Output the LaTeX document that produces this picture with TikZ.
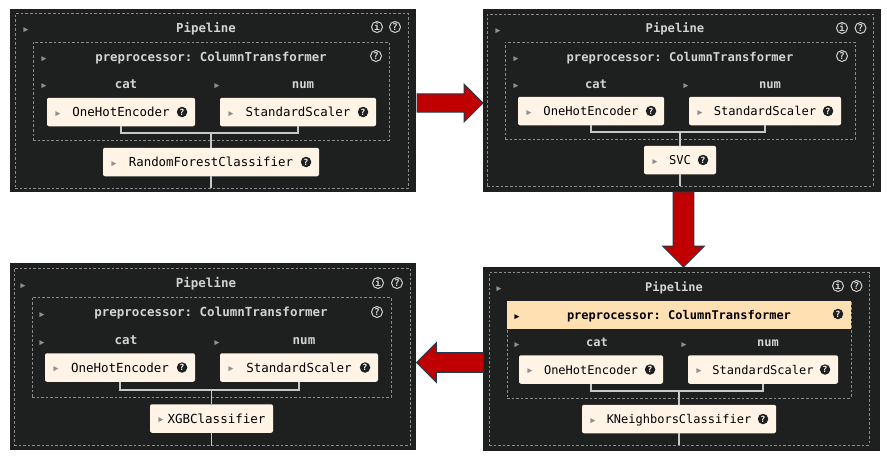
\documentclass[tikz,border=0pt]{standalone}
\usepackage{fontspec}
\setmonofont{DejaVu Sans Mono}
\usetikzlibrary{arrows.meta,positioning,calc,shapes.arrows}
\definecolor{paneldark}{HTML}{1E1F1F}
\definecolor{dashgrey}{HTML}{8C8C8C}
\definecolor{wiregrey}{HTML}{C8C8C8}
\definecolor{labelgrey}{HTML}{D2D2D2}
\definecolor{estcream}{HTML}{FFF4E6}
\definecolor{esthigh}{HTML}{FFE0B3}
\definecolor{arrowred}{HTML}{C00000}
\definecolor{arrowedge}{HTML}{1F3A4D}
\definecolor{trigrey}{HTML}{8F8F8F}
\newcommand{\panelfs}{12.4}
\tikzset{
  panel/.style={rectangle,fill=paneldark,inner sep=0pt,outer sep=0pt},
  dashframe/.style={rectangle,draw=dashgrey,line width=0.8pt,dash pattern=on 2.6pt off 2pt,inner sep=0pt,outer sep=0pt},
  headfill/.style={rectangle,fill=esthigh,inner sep=0pt,outer sep=0pt},
  title/.style={inner sep=0pt,text height=11pt,text depth=2pt,text=labelgrey,font=\ttfamily\bfseries\fontsize{\panelfs}{14}\selectfont},
  hightitle/.style={title,text=black},
  estbox/.style={rectangle,rounded corners=2pt,fill=estcream,text=black,inner sep=0pt,outer sep=0pt,minimum height=28.5pt,text height=11pt,text depth=2pt,font=\ttfamily\fontsize{\panelfs}{14}\selectfont},
  tri/.style={inner sep=0pt,yshift=-2.5pt,text=#1,font=\ttfamily\fontsize{13}{13}\selectfont},
  tri/.default=trigrey,
  helpicon/.style={circle,draw=labelgrey,line width=1pt,inner sep=0pt,minimum size=11pt,text=labelgrey,font=\ttfamily\bfseries\fontsize{9.5}{9.5}\selectfont},
  helpdark/.style={circle,fill=paneldark,inner sep=0pt,minimum size=10.5pt,text=white,font=\ttfamily\bfseries\fontsize{8.5}{8.5}\selectfont},
  wire/.style={draw=wiregrey,line width=1.5pt},
  redarrow/.style={single arrow,anchor=tip,fill=arrowred,draw=arrowedge,line width=0.8pt,inner sep=0pt,outer sep=0pt}
}
\begin{document}
\begin{tikzpicture}[x=1pt,y=-1pt]
  \useasboundingbox (0,0) rectangle (887,458);

  \node[panel, minimum width=406pt, minimum height=183pt] (P1) at (213,100.5) {};
  \node[dashframe, minimum width=393pt, minimum height=174.5pt] (F1) at (211.5,101) {};
  \node[dashframe, minimum width=356pt, minimum height=98pt] (G1) at (211,91) {};
  \node[title] (T1) at (206,27.5) {Pipeline};
  \node[tri] (TT1) at (26,28) {▸};
  \node[helpicon] (I1) at (377,27) {i};
  \node[helpicon, right=6pt of I1] (Q1) {?};
  \node[title] (H1) at (211,56.5) {preprocessor: ColumnTransformer};
  \node[tri] (TH1) at (44,57) {▸};
  \node[helpicon] (QH1) at (376,56) {?};
  \node[title] (C1) at (126,84) {cat};
  \node[tri] (TC1) at (44,84.5) {▸};
  \node[title] (N1) at (303,84) {num};
  \node[tri] (TN1) at (217,84.5) {▸};
  \node[estbox, minimum width=148pt] (OH1) at (121,112) {OneHotEncoder};
  \node[estbox, minimum width=156pt, right=25pt of OH1] (SS1) {StandardScaler};
  \node[estbox, minimum width=216pt] (RF1) at (211,162) {RandomForestClassifier};
  \node[tri, right=7pt of OH1.west] (TO1) {▸};
  \node[tri, right=7pt of SS1.west] (TS1) {▸};
  \node[tri, right=7pt of RF1.west] (TR1) {▸};
  \node[helpdark, left=7.5pt of OH1.east] (QO1) {?};
  \node[helpdark, left=7.5pt of SS1.east] (QS1) {?};
  \node[helpdark, left=7.5pt of RF1.east] (QR1) {?};
  \coordinate (J1) at (RF1.north |- 0,133);
  \coordinate (E1) at (RF1.south |- F1.south);
  \draw[wire] (OH1.south) |- (J1) -| (SS1.south);
  \draw[wire] (J1) -- (RF1.north);
  \draw[wire] (RF1.south) -- (E1);

  \renewcommand{\panelfs}{12.15}
  \node[panel, minimum width=398pt, minimum height=183pt] (P2) at (682,100.5) {};
  \node[dashframe, minimum width=386pt, minimum height=172pt] (F2) at (680,100) {};
  \node[dashframe, minimum width=350pt, minimum height=97pt] (G2) at (680,90.5) {};
  \node[title] (T2) at (675,28) {Pipeline};
  \node[tri] (TT2) at (498,29) {▸};
  \node[helpicon] (I2) at (842,28) {i};
  \node[helpicon, right=6.5pt of I2] (Q2) {?};
  \node[title] (H2) at (680,56.5) {preprocessor: ColumnTransformer};
  \node[tri] (TH2) at (516,57) {▸};
  \node[helpicon] (QH2) at (842,56) {?};
  \node[title] (C2) at (596,83.5) {cat};
  \node[tri] (TC2) at (516,84) {▸};
  \node[title] (N2) at (770,83.5) {num};
  \node[tri] (TN2) at (686,84) {▸};
  \node[estbox, minimum width=146pt] (OH2) at (591,111) {OneHotEncoder};
  \node[estbox, minimum width=152pt, right=25pt of OH2] (SS2) {StandardScaler};
  \node[estbox, minimum width=72pt] (RF2) at (680,160) {SVC};
  \node[tri, right=7pt of OH2.west] (TO2) {▸};
  \node[tri, right=7pt of SS2.west] (TS2) {▸};
  \node[tri, right=7pt of RF2.west] (TR2) {▸};
  \node[helpdark, left=7.5pt of OH2.east] (QO2) {?};
  \node[helpdark, left=7.5pt of SS2.east] (QS2) {?};
  \node[helpdark, left=7.5pt of RF2.east] (QR2) {?};
  \coordinate (J2) at (RF2.north |- 0,132);
  \coordinate (E2) at (RF2.south |- F2.south);
  \draw[wire] (OH2.south) |- (J2) -| (SS2.south);
  \draw[wire] (J2) -- (RF2.north);
  \draw[wire] (RF2.south) -- (E2);

  \renewcommand{\panelfs}{12}
  \node[panel, minimum width=397pt, minimum height=184pt] (P3) at (681.5,359) {};
  \node[dashframe, minimum width=380pt, minimum height=172.5pt] (F3) at (679,358.75) {};
  \node[dashframe, minimum width=344pt, minimum height=97pt] (G3) at (679,349.5) {};
  \node[headfill, minimum width=344pt, minimum height=28pt] (B3) at (679,315) {};
  \node[title] (T3) at (674,286.5) {Pipeline};
  \node[tri] (TT3) at (499,287) {▸};
  \node[helpicon] (I3) at (838,286) {i};
  \node[helpicon, right=6.5pt of I3] (Q3) {?};
  \node[hightitle] (H3) at (679,315) {preprocessor: ColumnTransformer};
  \node[tri=black] (TH3) at (517,315) {▸};
  \node[helpdark] (QH3) at (838,314) {?};
  \node[title] (C3) at (597,342) {cat};
  \node[tri] (TC3) at (517,343) {▸};
  \node[title] (N3) at (768,342) {num};
  \node[tri] (TN3) at (684,343) {▸};
  \node[estbox, minimum width=144pt] (OH3) at (591,369.5) {OneHotEncoder};
  \node[estbox, minimum width=150pt, right=25pt of OH3] (SS3) {StandardScaler};
  \node[estbox, minimum width=194pt] (RF3) at (679,419) {KNeighborsClassifier};
  \node[tri, right=7pt of OH3.west] (TO3) {▸};
  \node[tri, right=7pt of SS3.west] (TS3) {▸};
  \node[tri, right=7pt of RF3.west] (TR3) {▸};
  \node[helpdark, left=7.5pt of OH3.east] (QO3) {?};
  \node[helpdark, left=7.5pt of SS3.east] (QS3) {?};
  \node[helpdark, left=7.5pt of RF3.east] (QR3) {?};
  \coordinate (J3) at (RF3.north |- 0,391);
  \coordinate (E3) at (RF3.south |- F3.south);
  \draw[wire] (OH3.south) |- (J3) -| (SS3.south);
  \draw[wire] (J3) -- (RF3.north);
  \draw[wire] (RF3.south) -- (E3);

  \renewcommand{\panelfs}{12.5}
  \node[panel, minimum width=406pt, minimum height=187pt] (P4) at (213,356.5) {};
  \node[dashframe, minimum width=396pt, minimum height=177.5pt] (F4) at (212,356.75) {};
  \node[dashframe, minimum width=359pt, minimum height=100pt] (G4) at (211.5,347) {};
  \node[title] (T4) at (206,283) {Pipeline};
  \node[tri] (TT4) at (23,284) {▸};
  \node[helpicon] (I4) at (378,283) {i};
  \node[helpicon, right=7pt of I4] (Q4) {?};
  \node[title] (H4) at (211,312) {preprocessor: ColumnTransformer};
  \node[tri] (TH4) at (42,313) {▸};
  \node[helpicon] (QH4) at (377,312) {?};
  \node[title] (C4) at (126,340) {cat};
  \node[tri] (TC4) at (42,341) {▸};
  \node[title] (N4) at (304,340) {num};
  \node[tri] (TN4) at (217,341) {▸};
  \node[estbox, minimum width=150pt] (OH4) at (120,367.5) {OneHotEncoder};
  \node[estbox, minimum width=158pt, right=25pt of OH4] (SS4) {StandardScaler};
  \node[estbox, minimum width=123pt] (RF4) at (211.5,418.5) {\hspace*{10pt}XGBClassifier};
  \node[tri, right=7pt of OH4.west] (TO4) {▸};
  \node[tri, right=7pt of SS4.west] (TS4) {▸};
  \node[tri, right=7pt of RF4.west] (TR4) {▸};
  \node[helpdark, left=7.5pt of OH4.east] (QO4) {?};
  \node[helpdark, left=7.5pt of SS4.east] (QS4) {?};
  \coordinate (J4) at (RF4.north |- 0,390);
  \coordinate (E4) at (RF4.south |- F4.south);
  \draw[wire] (OH4.south) |- (J4) -| (SS4.south);
  \draw[wire] (J4) -- (RF4.north);
  \draw[wire] (RF4.south) -- (E4);

  \node[redarrow, inner ysep=8.75pt, minimum height=66pt, minimum width=37pt, single arrow head extend=9.75pt] (A1) at (483,103) {};
  \node[redarrow, inner xsep=10pt, minimum height=75pt, minimum width=41pt, single arrow head extend=10.5pt, shape border rotate=270] (A2) at (683.5,267) {};
  \node[redarrow, inner ysep=9.5pt, minimum height=67pt, minimum width=39pt, single arrow head extend=10pt, shape border rotate=180] (A3) at (416.5,362.5) {};
\end{tikzpicture}
\end{document}
